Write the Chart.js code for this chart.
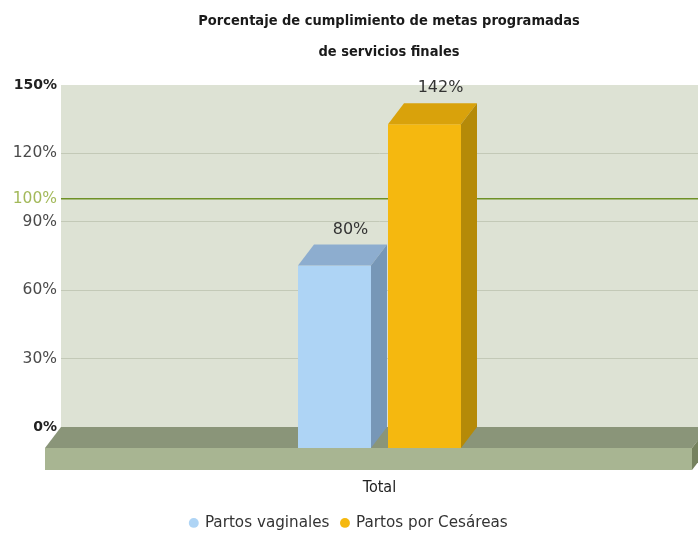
<!DOCTYPE html>
<html>
<head>
<meta charset="utf-8">
<title>Porcentaje de cumplimiento</title>
<script src="https://cdn.jsdelivr.net/npm/chart.js@4.4.1/dist/chart.umd.min.js"></script>
<style>
  html, body { margin: 0; padding: 0; background: #ffffff; }
  #wrap { position: relative; width: 698px; height: 537px; }
</style>
</head>
<body>
<div id="wrap"><canvas id="chart1"></canvas></div>
<script>

// Daten
var kategorien = ['Total'];
var partosVaginales = [80];
var partosCesareas = [142];
var serienNamen = ['Partos vaginales', 'Partos por Cesáreas'];
var yTicks = [0, 30, 60, 90, 100, 120, 150];
var meta = 100;
var titelZeilen = ['Porcentaje de cumplimiento de metas programadas', 'de servicios finales'];

// Farben fuer die 3D-Saeulen: vorne, oben, seite
var farben = [
  { front: '#aed4f5', top: '#8dadcf', side: '#7797b7' },
  { front: '#f5b80f', top: '#d9a20b', side: '#b58a08' }
];

// Tiefe der 3D-Darstellung
var tiefeX = 16;
var tiefeY = 21;


// Hintergrund der Rueckwand
var wandPlugin = {
  id: 'wand',
  beforeDraw: function(chart) {
    var a = chart.chartArea;
    var ctx = chart.ctx;
    ctx.save();
    ctx.fillStyle = '#dde2d4';
    ctx.fillRect(a.left, a.top, a.right - a.left, a.bottom - a.top);
    ctx.restore();
  }
};


// Boden und Saeulen in 3D zeichnen
var saeulen3d = {
  id: 'saeulen3d',
  beforeDatasetsDraw: function(chart) {
    var a = chart.chartArea;
    var ctx = chart.ctx;
    var basis = chart.scales.y.getPixelForValue(0);

    ctx.save();

    // Boden
    var bl = a.left;
    var br = a.right + 10;
    var fl = bl - tiefeX;
    var fr = br - tiefeX;
    var vorne = basis + tiefeY;
    var bodenH = 22;

    ctx.fillStyle = '#8a9579';
    ctx.beginPath();
    ctx.moveTo(bl, basis);
    ctx.lineTo(br, basis);
    ctx.lineTo(fr, vorne);
    ctx.lineTo(fl, vorne);
    ctx.closePath();
    ctx.fill();

    ctx.fillStyle = '#a8b592';
    ctx.fillRect(fl, vorne, fr - fl, bodenH);

    ctx.fillStyle = '#76825f';
    ctx.beginPath();
    ctx.moveTo(fr, vorne);
    ctx.lineTo(br, basis);
    ctx.lineTo(br, basis + bodenH);
    ctx.lineTo(fr, vorne + bodenH);
    ctx.closePath();
    ctx.fill();

    // Saeulen
    for (var d = 0; d < chart.data.datasets.length; d++) {
      var dm = chart.getDatasetMeta(d);
      var f = farben[d];
      for (var i = 0; i < dm.data.length; i++) {
        var el = dm.data[i];
        var w = el.width;
        var xl = el.x - w / 2;
        var xr = el.x + w / 2;
        var yOben = el.y + tiefeY;

        // vorne
        ctx.fillStyle = f.front;
        ctx.fillRect(xl, yOben, w, vorne - yOben);

        // oben
        ctx.fillStyle = f.top;
        ctx.beginPath();
        ctx.moveTo(xl, yOben);
        ctx.lineTo(xr, yOben);
        ctx.lineTo(xr + tiefeX, el.y);
        ctx.lineTo(xl + tiefeX, el.y);
        ctx.closePath();
        ctx.fill();

        // seite
        ctx.fillStyle = f.side;
        ctx.beginPath();
        ctx.moveTo(xr, yOben);
        ctx.lineTo(xr + tiefeX, el.y);
        ctx.lineTo(xr + tiefeX, basis);
        ctx.lineTo(xr, vorne);
        ctx.closePath();
        ctx.fill();

        // Wert
        var wert = chart.data.datasets[d].data[i];
        ctx.fillStyle = '#333';
        ctx.font = '16px "DejaVu Sans"';
        ctx.textAlign = 'center';
        ctx.textBaseline = 'middle';
        ctx.fillText(wert + '%', el.x + tiefeX, el.y - 15);
      }
    }

    ctx.restore();
    return false;
  }
};


// Titel in zwei Zeilen
var titelPlugin = {
  id: 'titel',
  afterDraw: function(chart) {
    var ctx = chart.ctx;
    ctx.save();
    ctx.fillStyle = '#1a1a1a';
    ctx.font = 'bold 14.5px "DejaVu Sans Condensed"';
    ctx.textAlign = 'center';
    ctx.textBaseline = 'middle';
    var x = 389;
    ctx.fillText(titelZeilen[0], x, 21);
    ctx.fillText(titelZeilen[1], x, 52);
    ctx.restore();
  }
};


function setChart() {

  const ctx1 = document.getElementById('chart1').getContext('2d');
  const chart1 = new Chart(ctx1, {
    type: 'bar',
    data: {
      labels: kategorien,
      datasets: [
        {
          label: serienNamen[0],
          data: partosVaginales,
          backgroundColor: farben[0].front,
          borderWidth: 0
        },
        {
          label: serienNamen[1],
          data: partosCesareas,
          backgroundColor: farben[1].front,
          borderWidth: 0
        }
      ]
    },
    options: {
      responsive: true,
      maintainAspectRatio: false,
      animation: false,
      events: [],
      categoryPercentage: 0.2826,
      barPercentage: 0.811,
      layout: {
        padding: { top: 85, left: 0, right: 0, bottom: -3.5 }
      },
      scales: {
        x: {
          grid: { display: false, drawTicks: false },
          border: { display: false },
          ticks: {
            padding: 51,
            color: '#222',
            font: { family: 'DejaVu Sans Condensed', size: 16 }
          },
          afterFit: function(scale) {
            scale.height = 76.3;
          }
        },
        y: {
          min: 0,
          max: 150,
          border: { display: false },
          afterBuildTicks: function(scale) {
            scale.ticks = yTicks.map(function(v) { return { value: v }; });
          },
          afterFit: function(scale) {
            scale.width = 61;
          },
          grid: {
            drawTicks: false,
            color: function(c) {
              var v = c.tick ? c.tick.value : null;
              if (v == meta) return '#6f9126';
              if (v == 0 || v == 150) return 'rgba(0,0,0,0)';
              return '#c3c9b7';
            },
            lineWidth: function(c) {
              var v = c.tick ? c.tick.value : null;
              return v == meta ? 1.5 : 1;
            }
          },
          ticks: {
            padding: 4,
            callback: function(v) { return v + '%'; },
            color: function(c) {
              var v = c.tick.value;
              if (v == meta) return '#a3b95a';
              if (v == 0 || v == 150) return '#222';
              return '#4a4a4a';
            },
            font: function(c) {
              var v = c.tick ? c.tick.value : null;
              if (v == 0 || v == 150) {
                return { family: 'DejaVu Sans', size: 14, weight: 'bold' };
              }
              return { family: 'DejaVu Sans', size: 15.5 };
            }
          }
        }
      },
      plugins: {
        title: { display: false },
        tooltip: { enabled: false },
        legend: {
          position: 'bottom',
          labels: {
            usePointStyle: true,
            pointStyle: 'circle',
            boxWidth: 7,
            boxHeight: 7,
            padding: 12,
            color: '#333',
            font: { family: 'DejaVu Sans', size: 15.2 }
          }
        }
      }
    },
    plugins: [wandPlugin, saeulen3d, titelPlugin]
  });
}

setChart();

</script>
</body>
</html>
